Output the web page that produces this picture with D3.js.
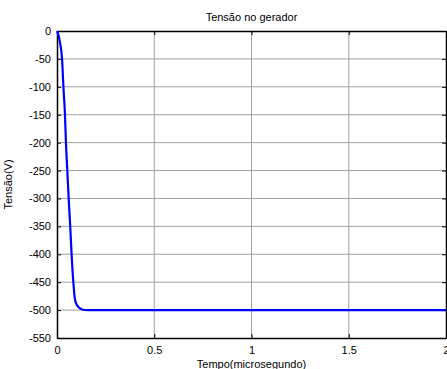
<!DOCTYPE html>
<html>
<head>
<meta charset="utf-8">
<script src="https://cdn.jsdelivr.net/npm/d3@7"></script>
<style>
  body { margin: 0; background: #fff; }
  text { font-family: Arial, "Liberation Sans", sans-serif; }
</style>
</head>
<body>
<div id="chart"></div>
<script>
// data
var tempo = [0, 0.008, 0.015, 0.026, 0.033, 0.041, 0.046, 0.053, 0.060, 0.068, 0.075, 0.084, 0.092, 0.101, 0.115, 0.13, 0.16, 0.5, 1.0, 1.5, 2.0];
var tensao = [0, -8, -20, -50, -100, -150, -200, -250, -300, -350, -400, -450, -480, -490, -496, -499, -500, -500, -500, -500, -500];
var xTicks = [0, 0.5, 1, 1.5, 2];
var yTicks = [0, -50, -100, -150, -200, -250, -300, -350, -400, -450, -500, -550];

var margin = {top: 31, right: 1, bottom: 31, left: 57},
    width = 447 - margin.left - margin.right,
    height = 369 - margin.top - margin.bottom;

var svg = d3.select("#chart")
  .append("svg")
    .attr("width", 447)
    .attr("height", 369)
  .append("g")
    .attr("transform", "translate(" + margin.left + "," + margin.top + ")");

var x = d3.scaleLinear().domain([0, 2]).range([0, width]);
var y = d3.scaleLinear().domain([-550, 0]).range([height, 0]);

// grid lines
svg.append("g")
  .selectAll("line.gx")
  .data(xTicks.slice(1, -1))
  .enter().append("line")
    .attr("x1", function(d) { return x(d); })
    .attr("x2", function(d) { return x(d); })
    .attr("y1", 0).attr("y2", height)
    .attr("stroke", "#a0a0a0").attr("stroke-width", 1);
svg.append("g")
  .selectAll("line.gy")
  .data(yTicks.slice(1, -1))
  .enter().append("line")
    .attr("x1", 0).attr("x2", width)
    .attr("y1", function(d) { return y(d); })
    .attr("y2", function(d) { return y(d); })
    .attr("stroke", "#a0a0a0").attr("stroke-width", 1);

// axes with inward ticks, plain hyphen minus like the original
var xAxis = svg.append("g")
  .attr("transform", "translate(0," + height + ")")
  .call(d3.axisBottom(x).tickValues(xTicks).tickSizeInner(-4).tickSizeOuter(0).tickPadding(8)
    .tickFormat(function(d) { return String(d); }));
var yAxis = svg.append("g")
  .call(d3.axisLeft(y).tickValues(yTicks).tickSizeInner(-4).tickSizeOuter(0).tickPadding(6)
    .tickFormat(function(d) { return String(d); }));
svg.append("g")
  .call(d3.axisTop(x).tickValues(xTicks).tickSizeInner(-4).tickSizeOuter(0).tickFormat(""));
svg.append("g")
  .attr("transform", "translate(" + width + ",0)")
  .call(d3.axisRight(y).tickValues(yTicks).tickSizeInner(-4).tickSizeOuter(0).tickFormat(""));

svg.selectAll(".domain").attr("stroke", "#000").attr("stroke-width", 1.5);
svg.selectAll(".tick line").attr("stroke", "#000");
svg.selectAll(".tick text").attr("font-size", 11).attr("fill", "#000")
  .style("font-family", "Arial, 'Liberation Sans', sans-serif");

// curve
svg.append("path")
  .datum(tempo.map(function(t, i) { return [t, tensao[i]]; }))
  .attr("fill", "none")
  .attr("stroke", "#0000ff")
  .attr("stroke-width", 2.2)
  .attr("d", d3.line()
    .x(function(d) { return x(d[0]); })
    .y(function(d) { return y(d[1]); })
    .curve(d3.curveMonotoneX));

// labels
svg.append("text")
  .attr("x", width / 2).attr("y", -10)
  .attr("text-anchor", "middle").attr("font-size", 11)
  .text("Tensão no gerador");
svg.append("text")
  .attr("x", width / 2).attr("y", height + 30)
  .attr("text-anchor", "middle").attr("font-size", 11)
  .text("Tempo(microsegundo)");
svg.append("text")
  .attr("transform", "translate(" + (-45) + "," + (height / 2) + ") rotate(-90)")
  .attr("text-anchor", "middle").attr("font-size", 11)
  .text("Tensão(V)");
</script>
</body>
</html>
